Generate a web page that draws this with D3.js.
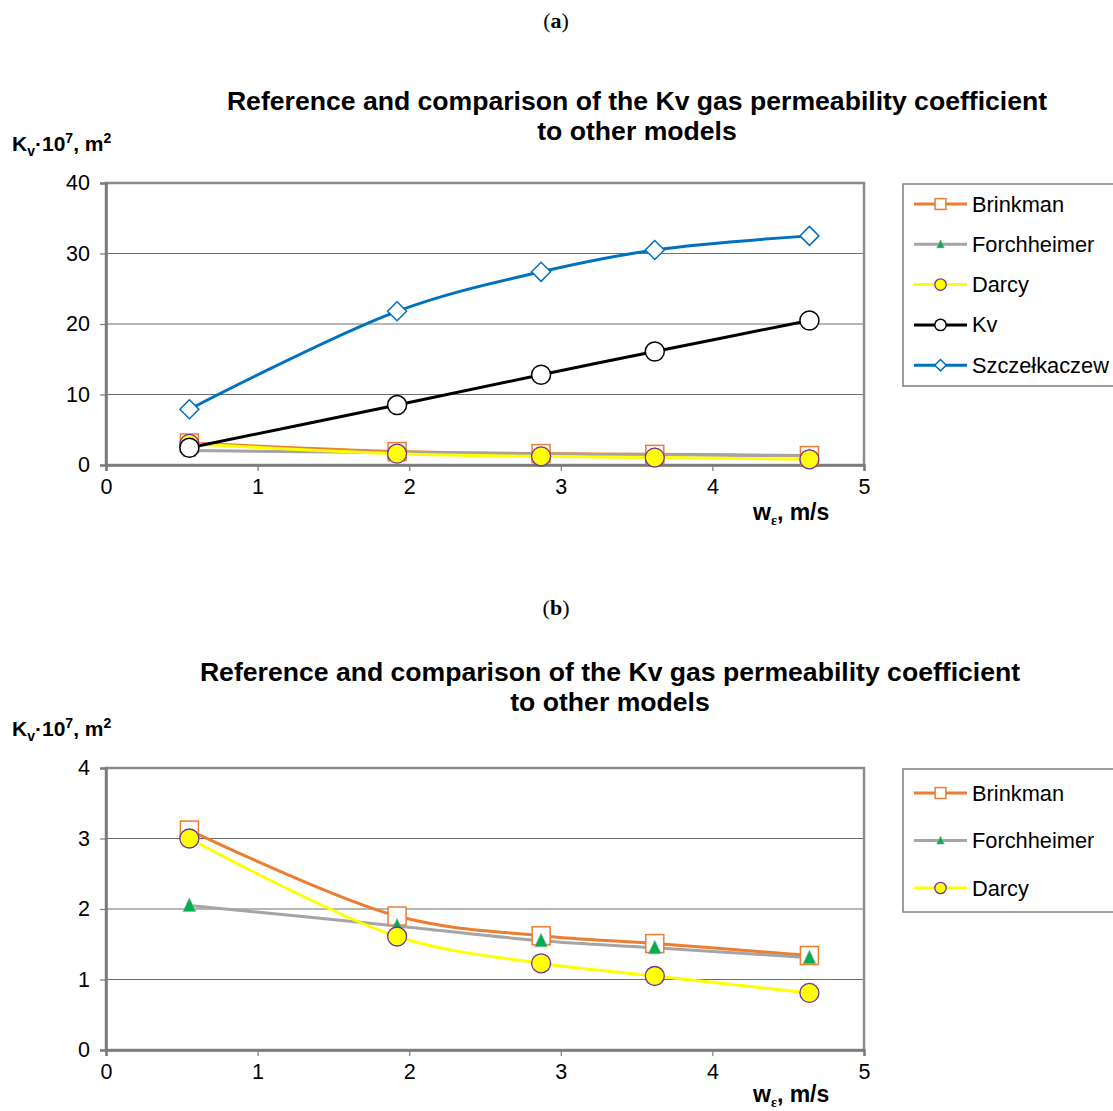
<!DOCTYPE html>
<html>
<head>
<meta charset="utf-8">
<script src="https://cdn.jsdelivr.net/npm/d3@7"></script>
<style>
  body { margin: 0; background: #fff; }
  text { font-family: "Liberation Sans", Arial, sans-serif; }
</style>
</head>
<body>
<svg id="fig" width="1113" height="1111"></svg>
<script>
// values
const wEps = [0.55, 1.92, 2.87, 3.62, 4.64];
const brinkman = [3.12, 1.90, 1.62, 1.51, 1.34];
const forchheimer = [2.05, 1.76, 1.55, 1.45, 1.31];
const darcy = [3.0, 1.61, 1.23, 1.05, 0.81];
const kv = [2.45, 8.5, 12.8, 16.1, 20.5];
const szczelkaczew = [7.9, 21.8, 27.4, 30.5, 32.5];

const xTicks = [0, 1, 2, 3, 4, 5];
const yTicksA = [0, 10, 20, 30, 40];
const yTicksB = [0, 1, 2, 3, 4];

const titleLines = ["Reference and comparison of the Kv gas permeability coefficient", "to other models"];

const styles = {
    "Brinkman": { color: "#ED7D31", marker: "square" },
    "Forchheimer": { color: "#A5A5A5", marker: "triangle" },
    "Darcy": { color: "#FFFF00", marker: "circleY" },
    "Kv": { color: "#000000", marker: "circleW" },
    "Szczełkaczew": { color: "#0070C0", marker: "diamond" }
};

const svg = d3.select("#fig");

function drawMarker(g, type, x, y, s) {
    // s = scale factor (1 for plot, smaller for legend)
    if (type === "square") {
        const h = 9 * s;
        g.append("rect").attr("x", x - h).attr("y", y - h).attr("width", 2 * h).attr("height", 2 * h)
            .attr("fill", "#fff").attr("stroke", "#ED7D31").attr("stroke-width", 1.5);
    } else if (type === "triangle") {
        const h = 7.5 * s;
        g.append("path").attr("d", `M${x},${y - h}L${x + h * 0.85},${y + h * 0.8}L${x - h * 0.85},${y + h * 0.8}Z`)
            .attr("fill", "#00B050").attr("stroke", "#A5A5A5").attr("stroke-width", 0.6);
    } else if (type === "circleY") {
        g.append("circle").attr("cx", x).attr("cy", y).attr("r", 9.5 * s)
            .attr("fill", "#FFFF00").attr("stroke", "#7030A0").attr("stroke-width", 1.3);
    } else if (type === "circleW") {
        g.append("circle").attr("cx", x).attr("cy", y).attr("r", 9.5 * s)
            .attr("fill", "#fff").attr("stroke", "#000").attr("stroke-width", 1.5);
    } else if (type === "diamond") {
        const h = 9.5 * s;
        g.append("path").attr("d", `M${x},${y - h}L${x + h},${y}L${x},${y + h}L${x - h},${y}Z`)
            .attr("fill", "#fff").attr("stroke", "#0070C0").attr("stroke-width", 1.5);
    }
}

function drawPanel(cfg) {
    const g = svg.append("g");
    const x = d3.scaleLinear().domain([0, 5]).range([cfg.left, cfg.right]);
    const y = d3.scaleLinear().domain([0, cfg.yMax]).range([cfg.bottom, cfg.top]);

    // panel letter
    const pl = g.append("text").attr("x", 556).attr("y", cfg.letterY).attr("text-anchor", "middle")
        .style("font-family", "'Liberation Serif', serif").style("font-size", "22px");
    pl.append("tspan").text("(");
    pl.append("tspan").style("font-weight", "bold").text(cfg.letter);
    pl.append("tspan").text(")");

    // title
    titleLines.forEach((t, i) => {
        g.append("text").attr("x", cfg.titleX).attr("y", cfg.titleY + i * 30)
            .attr("text-anchor", "middle").style("font-size", "26.6px").style("font-weight", "bold")
            .text(t);
    });

    // gridlines
    g.selectAll(".grid").data(cfg.yTicks.filter(d => d > 0 && d < cfg.yMax)).join("line")
        .attr("x1", cfg.left).attr("x2", cfg.right)
        .attr("y1", d => y(d)).attr("y2", d => y(d))
        .attr("stroke", "#6E6E6E").attr("stroke-width", 1);

    // plot frame
    g.append("rect").attr("x", cfg.left).attr("y", cfg.top)
        .attr("width", cfg.right - cfg.left).attr("height", cfg.bottom - cfg.top)
        .attr("fill", "none").attr("stroke", "#8C8C8C").attr("stroke-width", 2.5);

    // axes
    const yAxis = g.append("g").attr("transform", `translate(${cfg.left},0)`)
        .call(d3.axisLeft(y).tickValues(cfg.yTicks).tickFormat(d3.format("d")).tickSize(6).tickPadding(10));
    const xAxis = g.append("g").attr("transform", `translate(0,${cfg.bottom})`)
        .call(d3.axisBottom(x).tickValues(xTicks).tickFormat(d3.format("d")).tickSize(6).tickPadding(8));
    [yAxis, xAxis].forEach(a => {
        a.select(".domain").attr("stroke", "#7A7A7A").attr("stroke-width", 2.5);
        a.selectAll(".tick line").attr("stroke", "#7A7A7A").attr("stroke-width", 1.2);
        a.selectAll(".tick text").style("font-size", "21.5px").style("font-family", "'Liberation Sans', Arial, sans-serif")
            .attr("fill", "#000");
    });

    // y label
    const yl = g.append("text").attr("x", 12).attr("y", cfg.top - 32)
        .style("font-size", "21px").style("font-weight", "bold");
    yl.append("tspan").text("K");
    yl.append("tspan").attr("dy", 5).style("font-size", "14px").text("v");
    yl.append("tspan").attr("dy", -5).text("·10");
    yl.append("tspan").attr("dy", -8).style("font-size", "14px").text("7");
    yl.append("tspan").attr("dy", 8).text(", m");
    yl.append("tspan").attr("dy", -8).style("font-size", "14px").text("2");

    // x label
    const xl = g.append("text").attr("x", 753).attr("y", cfg.bottom + cfg.xlabOff)
        .style("font-size", "23px").style("font-weight", "bold");
    xl.append("tspan").text("w");
    xl.append("tspan").attr("dy", 5).style("font-size", "14px")
        .style("font-family", "'Liberation Serif', serif").text("ε");
    xl.append("tspan").attr("dy", -5).text(", m/s");

    // series
    const line = d3.line().x((d, i) => x(wEps[i])).y(d => y(d)).curve(d3.curveCatmullRom.alpha(0.5));
    cfg.series.forEach(s => {
        g.append("path").datum(s.values).attr("d", line)
            .attr("fill", "none").attr("stroke", styles[s.name].color).attr("stroke-width", 3);
    });
    cfg.series.forEach(s => {
        s.values.forEach((v, i) => drawMarker(g, styles[s.name].marker, x(wEps[i]), y(v), 1));
    });

    // legend
    const lg = g.append("g");
    lg.append("rect").attr("x", 903).attr("y", cfg.legTop).attr("width", 240).attr("height", cfg.legH)
        .attr("fill", "#fff").attr("stroke", "#7F7F7F").attr("stroke-width", 1.5);
    cfg.series.forEach((s, i) => {
        const cy = cfg.legFirst + i * cfg.legStep;
        lg.append("line").attr("x1", 914).attr("x2", 967).attr("y1", cy).attr("y2", cy)
            .attr("stroke", styles[s.name].color).attr("stroke-width", 3);
        drawMarker(lg, styles[s.name].marker, 940.5, cy, 0.6);
        lg.append("text").attr("x", 972).attr("y", cy + 7.5).style("font-size", "21.8px").text(s.name);
    });
}

drawPanel({
    letter: "a", letterY: 28,
    titleX: 637, titleY: 110,
    left: 106, right: 864, top: 183, bottom: 465, yMax: 40, yTicks: yTicksA, xlabOff: 55,
    series: [
        { name: "Brinkman", values: brinkman },
        { name: "Forchheimer", values: forchheimer },
        { name: "Darcy", values: darcy },
        { name: "Kv", values: kv },
        { name: "Szczełkaczew", values: szczelkaczew }
    ],
    legTop: 184, legH: 202, legFirst: 204, legStep: 40.3
});

drawPanel({
    letter: "b", letterY: 615,
    titleX: 610, titleY: 681,
    left: 106, right: 864, top: 768, bottom: 1050, yMax: 4, yTicks: yTicksB, xlabOff: 52,
    series: [
        { name: "Brinkman", values: brinkman },
        { name: "Forchheimer", values: forchheimer },
        { name: "Darcy", values: darcy }
    ],
    legTop: 769, legH: 143, legFirst: 793, legStep: 47.5
});
</script>
</body>
</html>
